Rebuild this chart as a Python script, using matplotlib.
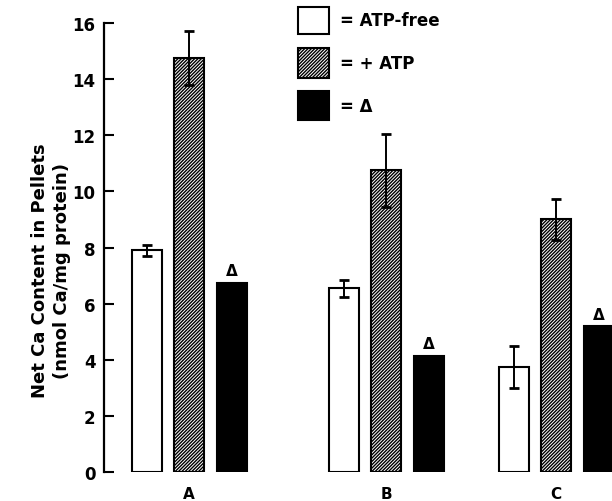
import matplotlib
matplotlib.use("Agg")
import matplotlib.pyplot as plt
from matplotlib.patches import Rectangle

# values (nmol Ca/mg protein)
groups = ["A", "B", "C"]
atp_free = [7.9, 6.55, 3.75]
atp_free_err = [0.2, 0.3, 0.75]
plus_atp = [14.75, 10.75, 9.0]
plus_atp_err = [0.95, 1.3, 0.72]
delta = [6.75, 4.15, 5.2]
yticks = [0, 2, 4, 6, 8, 10, 12, 14, 16]

W, H = 612, 502
plt.rcParams["font.family"] = "DejaVu Sans"
plt.rcParams["font.weight"] = "bold"
plt.rcParams["hatch.linewidth"] = 1.0

fig = plt.figure(figsize=(W / 100, H / 100), dpi=100)
ax = fig.add_axes([104 / W, (H - 473) / H, 1 - 104 / W, (473 - 24) / H])

# x positions in pixel-like units
group_pos = [189, 386, 556]
off = 42.5
bw = 30
hatch = "/" * 10

x_free = [g - off for g in group_pos]
x_atp = list(group_pos)
x_delta = [g + off for g in group_pos]

ax.bar(x_free, atp_free, width=bw, color="white", edgecolor="black", linewidth=1.5)
ax.bar(x_atp, plus_atp, width=bw, color="white", edgecolor="black", linewidth=1.5,
       hatch=hatch)
ax.bar(x_delta, delta, width=bw, color="black", edgecolor="black", linewidth=1.5)

ax.errorbar(x_free, atp_free, yerr=atp_free_err, fmt="none", ecolor="black",
            elinewidth=1.4, capsize=3.5, capthick=2)
ax.errorbar(x_atp, plus_atp, yerr=plus_atp_err, fmt="none", ecolor="black",
            elinewidth=1.4, capsize=3.5, capthick=2)

for x, v in zip(x_delta, delta):
    ax.annotate("Δ", (x, v), xytext=(0, 3), textcoords="offset points",
                ha="center", va="bottom", fontsize=11, fontweight="bold")

ax.set_xlim(104, 612)
ax.set_ylim(0, 16)
ax.set_yticks(yticks)
ax.set_yticklabels([str(t) for t in yticks], fontsize=12, fontweight="bold")
ax.set_xticks(group_pos)
ax.set_xticklabels(groups, fontsize=11, fontweight="bold")
ax.tick_params(axis="y", direction="in", length=7, width=1.5, pad=6)
ax.tick_params(axis="x", length=0, pad=10)

for s in ["top", "right", "bottom"]:
    ax.spines[s].set_visible(False)
ax.spines["left"].set_linewidth(1.6)

ax.set_ylabel("Net Ca Content in Pellets\n(nmol Ca/mg protein)", fontsize=13,
              fontweight="bold", linespacing=1.3)
ax.yaxis.set_label_coords(-0.064, 0.45)

# legend boxes drawn in figure pixels
legend_items = [
    (8, 35, dict(facecolor="white", hatch=None), "= ATP-free"),
    (49, 79, dict(facecolor="white", hatch=hatch), "= + ATP"),
    (92, 121, dict(facecolor="black", hatch=None), "= Δ"),
]
for top, bot, style, label in legend_items:
    r = Rectangle((298 / W, (H - bot) / H), 31 / W, (bot - top) / H,
                  transform=fig.transFigure, edgecolor="black", linewidth=1.5,
                  **style)
    fig.add_artist(r)
    fig.text(340 / W, (H - (top + bot) / 2) / H, label, fontsize=12,
             fontweight="bold", va="center", ha="left")

fig.savefig("out.png", dpi=100)
